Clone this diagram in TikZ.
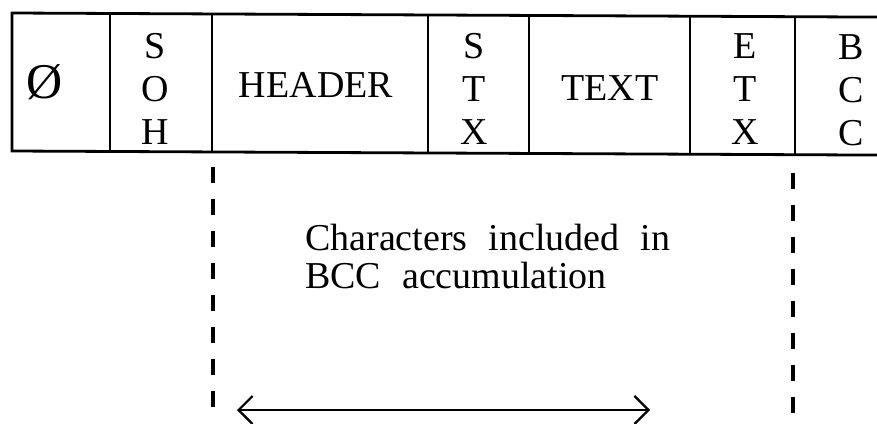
\documentclass[tikz,border=0pt]{standalone}
\usepackage{fontspec}
\setmainfont{Liberation Serif}
\usetikzlibrary{arrows.meta}
\begin{document}
\begin{tikzpicture}[x=1pt,y=-1pt,
  frame/.style={line width=2.8pt, line join=miter},
  lbl/.style={font=\fontsize{38}{43}\selectfont, inner sep=0pt, align=center},
  big/.style={font=\fontsize{50}{50}\selectfont, inner sep=0pt},
  note/.style={font={\fontsize{38}{38}\selectfont\spaceskip=21pt\relax}, inner sep=0pt, align=left},
  dashline/.style={line width=3.2pt, dash pattern=on 16pt off 16pt},
  span/.style={line width=2.2pt, {Straight Barb[length=14pt,width=28pt]}-{Straight Barb[length=14pt,width=28pt]}}]
\useasboundingbox (0,0) rectangle (877,423);
% frame
\draw[frame] (880,17.1) -- (12,13) -- (12,151) -- (880,155.1);
\foreach \x/\t in {110/13.45,212/13.9,428/14.9,529/15.4,690/16.1,795/16.6}
  \draw[frame] (\x,\t) -- (\x,\t+138);
% cell labels
\node[big] (zero)   at (45,82)  {Ø};
\node[lbl] (soh)    at (155,89) {S\\O\\H};
\node[lbl] (header) at (316,85) {HEADER};
\node[lbl] (stx)    at (474,89) {S\\T\\X};
\node[lbl] (text)   at (610,88) {TEXT};
\node[lbl] (etx)    at (745,89) {E\\T\\X};
\node[lbl] (bcc)    at (851,90) {B\\C\\C};
% note
\node[note, anchor=north west] (note) at (305,224)
  {Characters included in\\BCC accumulation};
% dashed boundaries
\coordinate (dlt) at (213,167);
\coordinate (dlb) at (213,410);
\coordinate (drt) at (793,173);
\coordinate (drb) at (793,414);
\draw[dashline] (dlt) -- (dlb);
\draw[dashline] (drt) -- (drb);
% span arrow
\coordinate (arrL) at (237,410);
\coordinate (arrR) at (650,410);
\draw[span] (arrL) -- (arrR);
\end{tikzpicture}
\end{document}
